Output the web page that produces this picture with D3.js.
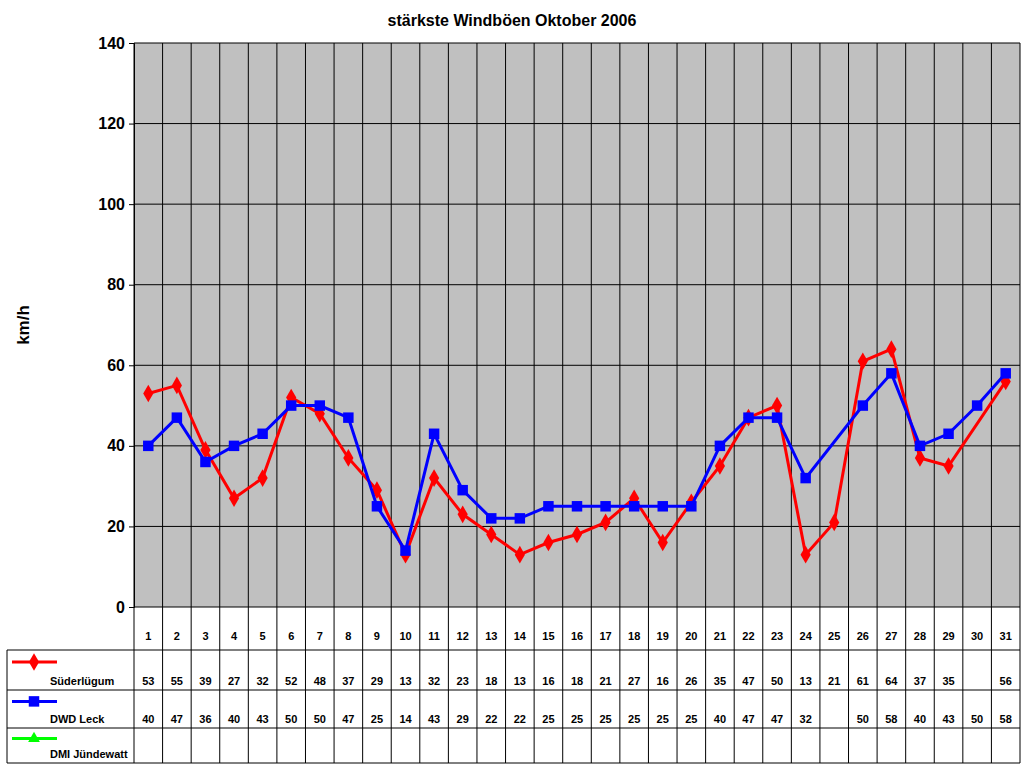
<!DOCTYPE html>
<html><head><meta charset="utf-8">
<script src="https://cdn.jsdelivr.net/npm/d3@7"></script>
<style>body{margin:0;background:#fff}svg{font-family:Arial,"Liberation Sans",sans-serif}</style>
</head><body><svg id="c" width="1024" height="768"></svg>
<script>
const days = d3.range(1,32);
const suder = [53,55,39,27,32,52,48,37,29,13,32,23,18,13,16,18,21,27,16,26,35,47,50,13,21,61,64,37,35,null,56];
const dwd = [40,47,36,40,43,50,50,47,25,14,43,29,22,22,25,25,25,25,25,25,40,47,47,32,null,50,58,40,43,50,58];
const dmi = new Array(31).fill(null);
const yTicks = [0,20,40,60,80,100,120,140];
const series = [
 {name:"Süderlügum", vals:suder, color:"#FF0000", shape:d3.symbolDiamond, size:90},
 {name:"DWD Leck", vals:dwd, color:"#0000FF", shape:d3.symbolSquare, size:110},
 {name:"DMI Jündewatt", vals:dmi, color:"#00FF00", shape:d3.symbolTriangle, size:60}
];
const svg = d3.select("#c");
const L=134, R=1020, T=43, B=607;
const x = d3.scaleBand().domain(days).range([L,R]);
const y = d3.scaleLinear().domain([0,140]).range([B,T]);
svg.append("rect").attr("x",L).attr("y",T).attr("width",R-L).attr("height",B-T).attr("fill","#C0C0C0");
const rows=[607,650,690,728,763];
// grid
yTicks.forEach(t=>svg.append("line").attr("x1",L).attr("x2",R).attr("y1",y(t)).attr("y2",y(t)).attr("stroke","#000"));
days.forEach(d=>svg.append("line").attr("x1",x(d)).attr("x2",x(d)).attr("y1",T).attr("y2",rows[4]).attr("stroke","#000"));
svg.append("line").attr("x1",R).attr("x2",R).attr("y1",T).attr("y2",rows[4]).attr("stroke","#000");
svg.append("line").attr("x1",7).attr("x2",7).attr("y1",rows[1]).attr("y2",rows[4]).attr("stroke","#000");
rows.slice(1).forEach(r=>svg.append("line").attr("x1",7).attr("x2",R).attr("y1",r).attr("y2",r).attr("stroke","#000"));
// y axis
const ya = svg.append("g").attr("transform",`translate(${L},0)`).call(d3.axisLeft(y).tickValues(yTicks).tickSize(5).tickPadding(4));
ya.selectAll("text").attr("font-size",16).attr("font-weight","bold").attr("fill","#000");
ya.select(".domain").attr("stroke","#000");
svg.append("text").attr("x",512).attr("y",26).attr("text-anchor","middle").attr("font-size",16).attr("font-weight","bold").text("stärkste Windböen Oktober 2006");
svg.append("text").attr("transform","translate(29,325) rotate(-90)").attr("text-anchor","middle").attr("font-size",17).attr("font-weight","bold").text("km/h");
const cx=d=>x(d)+x.bandwidth()/2;
// day labels
days.forEach(d=>svg.append("text").attr("x",cx(d)).attr("y",640).attr("text-anchor","middle").attr("font-size",11).attr("font-weight","bold").text(d));
series.forEach((s,i)=>{
 const pts = days.map((d,j)=>({d,v:s.vals[j]})).filter(p=>p.v!=null);
 svg.append("path").datum(pts).attr("fill","none").attr("stroke",s.color).attr("stroke-width",3)
   .attr("d",d3.line().x(p=>cx(p.d)).y(p=>y(p.v)));
 svg.selectAll(null).data(pts).enter().append("path").attr("fill",s.color)
   .attr("transform",p=>`translate(${cx(p.d)},${y(p.v)})`).attr("d",d3.symbol().type(s.shape).size(s.size));
 const rt=rows[i+1], rb=rows[i+2];
 const my=rt+(rb-rt)*0.3;
 svg.append("line").attr("x1",12).attr("x2",57).attr("y1",my).attr("y2",my).attr("stroke",s.color).attr("stroke-width",3);
 svg.append("path").attr("fill",s.color).attr("transform",`translate(34,${my})`).attr("d",d3.symbol().type(s.shape).size(s.size));
 svg.append("text").attr("x",50).attr("y",rb-5).attr("font-size",11).attr("font-weight","bold").text(s.name);
 days.forEach((d,j)=>{ if(s.vals[j]!=null) svg.append("text").attr("x",cx(d)).attr("y",rb-5).attr("text-anchor","middle").attr("font-size",11).attr("font-weight","bold").text(s.vals[j]); });
});
</script></body></html>
